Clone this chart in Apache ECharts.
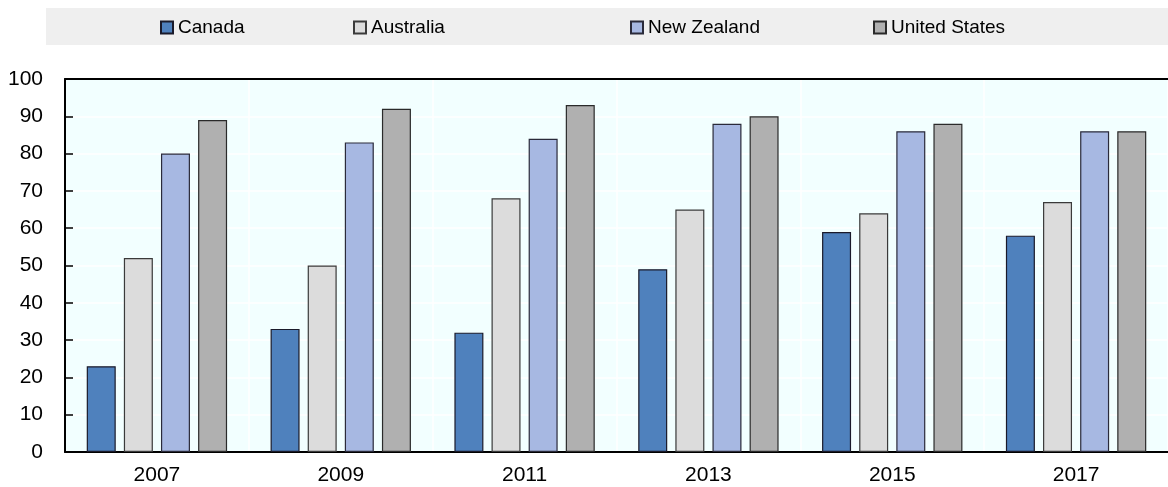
<!DOCTYPE html>
<html>
<head>
<meta charset="utf-8">
<script src="https://cdn.jsdelivr.net/npm/echarts@6/dist/echarts.min.js"></script>
<style>
    html, body { margin: 0; padding: 0; background: #fff; }
    #chart { width: 1168px; height: 487px; }
</style>
</head>
<body>
<div id="chart"></div>
<script>
const years = ['2007', '2009', '2011', '2013', '2015', '2017']
const canada = [23, 33, 32, 49, 59, 58]
const australia = [52, 50, 68, 65, 64, 67]
const newZealand = [80, 83, 84, 88, 86, 86]
const unitedStates = [89, 92, 93, 90, 88, 86]

const FONT = "'Liberation Sans Narrow', 'Arial Narrow', 'Liberation Sans', Arial, sans-serif"

const chart = echarts.init(document.getElementById('chart'))

function barSeries(name, data, color, border) {
    return {
        name: name,
        type: 'bar',
        data: data,
        barWidth: 29,
        barGap: '28%',
        itemStyle: {
            color: color,
            borderColor: border,
            borderWidth: 1.2
        }
    }
}

// one legend per entry so each can sit where the original puts it
function legendAt(name, left) {
    return {
        data: [name],
        left: left,
        top: 13,
        itemWidth: 12,
        itemHeight: 12,
        icon: 'rect',
        textStyle: { fontFamily: FONT, fontSize: 19, color: '#000' }
    }
}

const option = {
    animation: false,
    textStyle: { fontFamily: FONT },
    graphic: [{
        type: 'rect',
        left: 46,
        top: 8,
        shape: { width: 1122, height: 37 },
        style: { fill: '#efefef' },
        z: -10
    }],
    legend: [
        legendAt('Canada', 155),
        legendAt('Australia', 348),
        legendAt('New Zealand', 625),
        legendAt('United States', 868)
    ],
    grid: {
        left: 65,
        right: 0,
        top: 79,
        bottom: 35,
        show: true,
        backgroundColor: '#f2ffff',
        borderWidth: 0
    },
    xAxis: [{
        type: 'category',
        data: years,
        axisLine: { lineStyle: { color: '#000', width: 2 } },
        axisTick: { inside: true, length: 7, lineStyle: { color: '#000', width: 1.5 } },
        axisLabel: { color: '#000', fontSize: 21, margin: 13, fontFamily: FONT },
        splitLine: { show: true, lineStyle: { color: '#ffffff', width: 1.5 } }
    }, {
        type: 'category',
        data: years,
        position: 'top',
        axisLine: { lineStyle: { color: '#000', width: 2 } },
        axisTick: { show: false },
        axisLabel: { show: false }
    }],
    yAxis: {
        type: 'value',
        min: 0,
        max: 100,
        interval: 10,
        axisLine: { show: true, lineStyle: { color: '#000', width: 2 } },
        axisTick: { show: true, inside: true, length: 8, lineStyle: { color: '#000', width: 1.5 } },
        axisLabel: { color: '#000', fontSize: 21, margin: 22, fontFamily: FONT },
        splitLine: { show: true, lineStyle: { color: '#ffffff', width: 1.5 } }
    },
    series: [
        barSeries('Canada', canada, '#4f81bd', '#1a1a2a'),
        barSeries('Australia', australia, '#dcdcdc', '#3a3a3a'),
        barSeries('New Zealand', newZealand, '#a7b8e2', '#2a2a3a'),
        barSeries('United States', unitedStates, '#b0b0b0', '#2a2a2a')
    ]
}

chart.setOption(option)
</script>
</body>
</html>
